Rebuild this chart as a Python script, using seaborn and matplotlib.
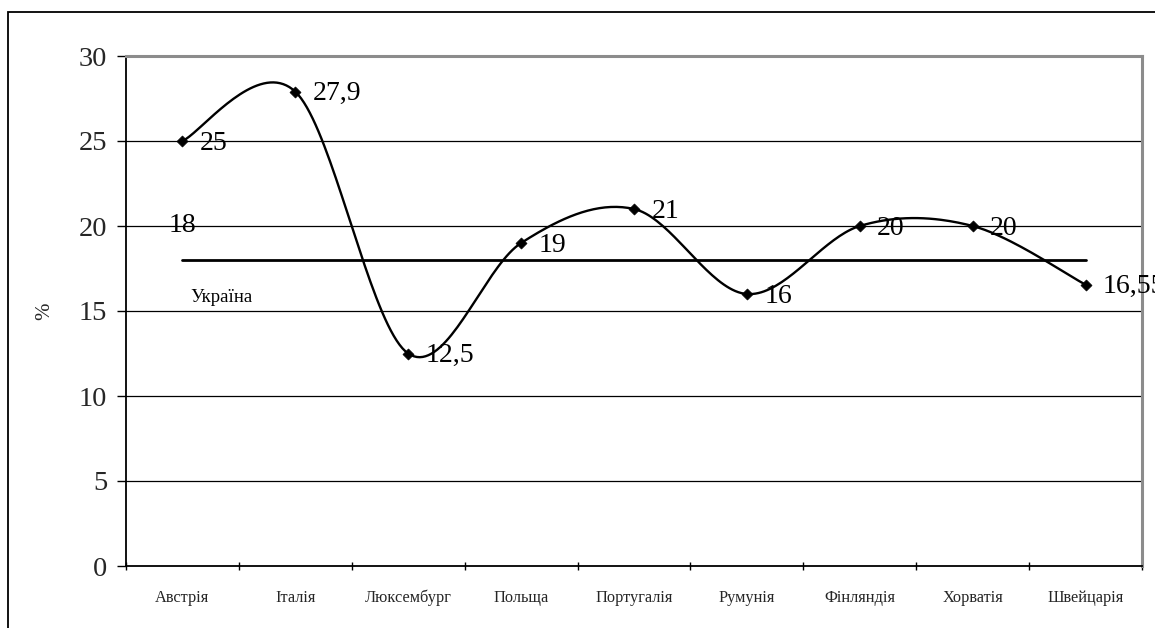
import numpy as np
import pandas as pd
import matplotlib
matplotlib.use("Agg")
import matplotlib.pyplot as plt
from matplotlib.patches import Rectangle
from matplotlib.ticker import FixedLocator, NullFormatter
import seaborn as sns

# Countries and their values (%)
countries = ["Австрія", "Італія", "Люксембург", "Польща", "Португалія",
             "Румунія", "Фінляндія", "Хорватія", "Швейцарія"]
values = [25, 27.9, 12.5, 19, 21, 16, 20, 20, 16.55]
value_labels = ["25", "27,9", "12,5", "19", "21", "16", "20", "20", "16,55"]

# Reference level for Ukraine
ukraine_value = 18
ukraine_label = "18"
ukraine_name = "Україна"

y_ticks = [0, 5, 10, 15, 20, 25, 30]

sns.set_style("white")
plt.rcParams["font.family"] = ["Liberation Serif", "DejaVu Serif"]


def smooth_curve(x, y, steps=40):
    """Cubic Bezier smoothing through every point (Catmull-Rom tangents)."""
    x = np.asarray(x, float)
    y = np.asarray(y, float)
    n = len(x)
    xs, ys = [], []
    for i in range(n - 1):
        p0 = np.array([x[i], y[i]])
        p3 = np.array([x[i + 1], y[i + 1]])
        prev = np.array([x[i - 1], y[i - 1]]) if i > 0 else p0
        nxt = np.array([x[i + 2], y[i + 2]]) if i + 2 < n else p3
        c1 = p0 + (p3 - prev) / 6.0
        c2 = p3 - (nxt - p0) / 6.0
        t = np.linspace(0, 1, steps)[:, None]
        pts = ((1 - t) ** 3) * p0 + 3 * ((1 - t) ** 2) * t * c1 \
            + 3 * (1 - t) * t ** 2 * c2 + t ** 3 * p3
        if i > 0:
            pts = pts[1:]
        xs.append(pts[:, 0])
        ys.append(pts[:, 1])
    return np.concatenate(xs), np.concatenate(ys)


pos = np.arange(len(countries))
df = pd.DataFrame({"pos": pos, "value": values})
sx, sy = smooth_curve(pos, values)
curve = pd.DataFrame({"pos": sx, "value": sy})
ukr = pd.DataFrame({"pos": pos, "value": [ukraine_value] * len(pos)})

W, H = 1155, 628
fig = plt.figure(figsize=(W / 100, H / 100), dpi=100)
ax = fig.add_axes([126 / W, 1 - 566 / H, (1142 - 126) / W, (566 - 56) / H])

# outer frame of the chart
fig.patches.append(Rectangle((8 / W, -0.1), 1.2, 1 - 12 / H + 0.1,
                             transform=fig.transFigure, fill=False,
                             edgecolor="black", linewidth=1.3))

# gridlines
for yv in y_ticks[1:-1]:
    ax.axhline(yv, color="black", linewidth=0.9, zorder=1)

# Ukraine reference line
sns.lineplot(data=ukr, x="pos", y="value", ax=ax, color="black",
             linewidth=2.0, zorder=2, legend=False)

# smoothed country curve and markers
sns.lineplot(data=curve, x="pos", y="value", ax=ax, sort=False,
             estimator=None, color="black", linewidth=1.7, zorder=3)
sns.scatterplot(data=df, x="pos", y="value", ax=ax, marker="D", s=32,
                color="black", edgecolor="black", zorder=4)

# value labels
for p, v, lab in zip(pos, values, value_labels):
    ax.annotate(lab, (p, v), xytext=(12.5, -1.5), textcoords="offset points",
                ha="left", va="center", fontsize=20, color="black",
                zorder=5, annotation_clip=False)

ax.annotate(ukraine_label, (0, ukraine_value), xytext=(0, 25),
            textcoords="offset points", ha="center", va="center",
            fontsize=20, color="black")
ax.annotate(ukraine_name, (0, ukraine_value), xytext=(28, -27),
            textcoords="offset points", ha="center", va="center",
            fontsize=13.5, color="black")

ax.set_xlim(-0.5, len(countries) - 0.5)
ax.set_ylim(0, 30)
ax.set_yticks(y_ticks)
ax.set_yticklabels([str(t) for t in y_ticks], fontsize=20.5)
ax.set_xticks(pos)
ax.set_xticklabels(countries, fontsize=11.8)
ax.xaxis.set_minor_locator(FixedLocator(np.arange(-0.5, len(countries), 1.0)))
ax.xaxis.set_minor_formatter(NullFormatter())
ax.tick_params(axis="x", which="major", length=0, pad=17)
ax.tick_params(axis="x", which="minor", length=6, width=1, color="black",
               direction="inout", bottom=True)
ax.tick_params(axis="y", which="major", length=6.5, width=1, color="black",
               left=True, pad=7)
ax.set_xlabel("")
ax.set_ylabel("%", fontsize=15, labelpad=18)

for side in ["left", "bottom"]:
    ax.spines[side].set_color("black")
    ax.spines[side].set_linewidth(1.3)
for side in ["top", "right"]:
    ax.spines[side].set_visible(True)
    ax.spines[side].set_color("#8c8c8c")
    ax.spines[side].set_linewidth(2.2)

fig.savefig("out.png", dpi=100)
